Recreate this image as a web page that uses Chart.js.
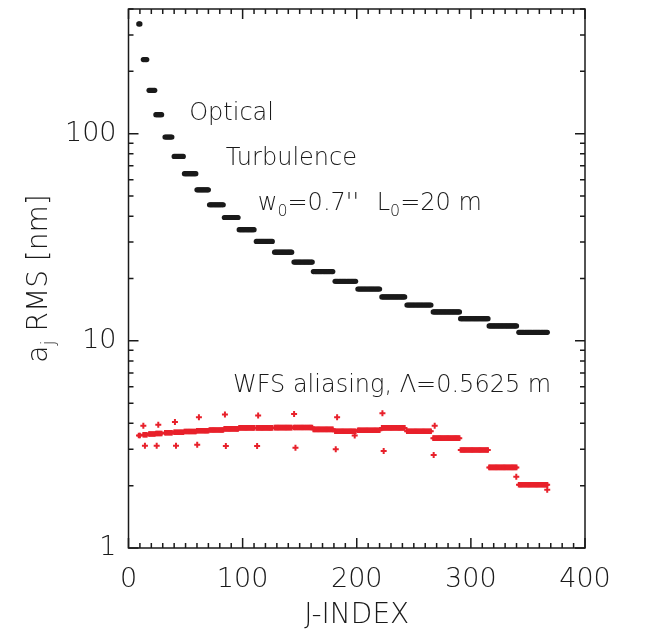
<!DOCTYPE html>
<html>
<head>
<meta charset="utf-8">
<script src="https://cdn.jsdelivr.net/npm/chart.js@4.4.1/dist/chart.umd.min.js"></script>
<style>
  html, body { margin: 0; padding: 0; background: #fff; }
  canvas { display: block; }
</style>
</head>
<body>
<canvas id="chart" width="647" height="633"></canvas>
<script>
// radial-order groups: first and last J-index of each group
const groupStart = [9, 13, 18, 24, 32, 40, 49, 60, 71, 84, 97, 112, 128, 145, 162, 181, 201, 222, 244, 267, 291, 316, 342]
const groupEnd = [10, 16, 23, 29, 38, 48, 59, 70, 83, 96, 110, 126, 143, 161, 179, 199, 220, 242, 265, 290, 315, 340, 367]
// optical turbulence, RMS per group [nm]
const turbRms = [339, 228, 162, 123.5, 96.4, 77.7, 64.1, 53.6, 45.4, 39.4, 34.4, 30.2, 26.8, 24.0, 21.6, 19.4, 17.8, 16.3, 14.9, 13.8, 12.8, 11.8, 11.0]
// WFS aliasing, RMS per group [nm]
const aliasRms = [3.49, 3.52, 3.55, 3.57, 3.60, 3.62, 3.65, 3.68, 3.71, 3.76, 3.80, 3.80, 3.81, 3.82, 3.74, 3.66, 3.70, 3.80, 3.66, 3.39, 2.97, 2.45, 2.02]
// aliasing points lying off the main band
const aliasOutJ = [13, 14.4, 24.7, 26.1, 40.7, 41.6, 60.2, 61.7, 84.5, 85.3, 112.7, 113.6, 145.1, 146.3, 181.6, 182.8, 198.2, 222.5, 223.6, 267.4, 268.3, 339.8, 366.9]
const aliasOutRms = [3.89, 3.12, 3.12, 3.94, 4.06, 3.12, 3.15, 4.28, 4.41, 3.11, 3.11, 4.36, 4.44, 3.05, 3.00, 4.28, 3.49, 4.47, 2.94, 2.81, 3.89, 2.21, 1.91]

const xTickLabels = [0, 100, 200, 300, 400]
const yTickLabels = [1, 10, 100]

const RED = '#e8212b'
const INK = '#1a1a1a'
const FONT = 'DejaVu Sans'

// one point per mode, value of its group
const toPoints = (vals) => {
  const pts = []
  groupStart.forEach((s, g) => {
    for (let j = s; j <= groupEnd[g]; j++) pts.push({ x: j, y: vals[g] })
  })
  return pts
}

const drawRuns = (ctx, x, y, runs, size) => {
  let cx = x
  runs.forEach(r => {
    const fs = r.sub ? size * 0.66 : size
    ctx.font = `200 ${fs}px "${FONT}"`
    ctx.fillText(r.t, cx, r.sub ? y + size * 0.26 : y)
    cx += ctx.measureText(r.t).width
  })
  return cx
}

const frame = {
  id: 'frame',
  afterDatasetsDraw(chart) {
    const { ctx, chartArea: a, scales: { x, y } } = chart
    ctx.save()
    ctx.strokeStyle = INK
    ctx.lineWidth = 1.5
    ctx.strokeRect(a.left, a.top, a.right - a.left, a.bottom - a.top)
    ctx.beginPath()
    x.ticks.forEach(t => {
      const px = x.getPixelForValue(t.value)
      const len = xTickLabels.includes(t.value) ? 10 : 5
      ctx.moveTo(px, a.bottom); ctx.lineTo(px, a.bottom - len)
      ctx.moveTo(px, a.top); ctx.lineTo(px, a.top + len)
    })
    y.ticks.forEach(t => {
      const py = y.getPixelForValue(t.value)
      const len = yTickLabels.includes(t.value) ? 10 : 5
      ctx.moveTo(a.left, py); ctx.lineTo(a.left + len, py)
      ctx.moveTo(a.right, py); ctx.lineTo(a.right - len, py)
    })
    ctx.stroke()

    // annotations, anchored in data coordinates
    ctx.fillStyle = INK
    ctx.textBaseline = 'alphabetic'
    ctx.textAlign = 'left'
    const at = (jx, v) => [x.getPixelForValue(jx), y.getPixelForValue(v)]
    let p = at(53.2, 116.8)
    drawRuns(ctx, p[0], p[1], [{ t: 'Optical' }], 24)
    p = at(85.3, 70.8)
    drawRuns(ctx, p[0], p[1], [{ t: 'Turbulence' }], 24)
    p = at(113.3, 42.9)
    drawRuns(ctx, p[0], p[1], [{ t: 'w' }, { t: '0', sub: true }, { t: "=0.7''" }], 24)
    p = at(217.5, 42.9)
    drawRuns(ctx, p[0], p[1], [{ t: 'L' }, { t: '0', sub: true }, { t: '=20 m' }], 24)
    p = at(91.5, 5.67)
    drawRuns(ctx, p[0], p[1], [{ t: 'WFS aliasing, Λ=0.5625 m' }], 24)

    // x axis title
    ctx.font = `200 28px "${FONT}"`
    ctx.textAlign = 'center'
    ctx.fillText('J-INDEX', (a.left + a.right) / 2, a.bottom + 75)
    ctx.textAlign = 'left'

    // y axis title with subscript, rotated
    const runs = [{ t: 'a' }, { t: 'j', sub: true }, { t: ' RMS [nm]' }]
    let w = 0
    runs.forEach(r => {
      ctx.font = `200 ${r.sub ? 28 * 0.66 : 28}px "${FONT}"`
      w += ctx.measureText(r.t).width
    })
    ctx.translate(37, (a.top + a.bottom) / 2)
    ctx.rotate(-Math.PI / 2)
    drawRuns(ctx, -w / 2, 10, runs, 28)
    ctx.restore()
  }
}

const minorTicks = (min, max) => {
  const out = []
  for (let v = min; v <= max; v += 10) out.push({ value: v })
  return out
}

new Chart(document.getElementById('chart'), {
  type: 'scatter',
  data: {
    datasets: [
      {
        label: 'Optical Turbulence',
        data: toPoints(turbRms),
        pointStyle: 'circle',
        pointRadius: 2.6,
        pointBackgroundColor: INK,
        pointBorderWidth: 0
      },
      {
        label: 'WFS aliasing',
        data: toPoints(aliasRms),
        pointStyle: 'cross',
        pointRadius: 2.8,
        pointBorderColor: RED,
        pointBorderWidth: 2
      },
      {
        label: 'WFS aliasing (off band)',
        data: aliasOutJ.map((j, i) => ({ x: j, y: aliasOutRms[i] })),
        pointStyle: 'cross',
        pointRadius: 3,
        pointBorderColor: RED,
        pointBorderWidth: 2
      }
    ]
  },
  options: {
    responsive: false,
    animation: false,
    layout: { autoPadding: false, padding: { left: 0, right: 62, top: 9, bottom: 0 } },
    plugins: { legend: { display: false }, tooltip: { enabled: false } },
    scales: {
      x: {
        type: 'linear',
        min: 0,
        max: 400,
        grid: { display: false, drawTicks: false },
        border: { display: false },
        afterBuildTicks: s => { s.ticks = minorTicks(0, 400) },
        afterFit: s => { s.height = 85; s.paddingLeft = 0; s.paddingRight = 0 },
        ticks: {
          autoSkip: false,
          maxRotation: 0,
          padding: 16,
          color: INK,
          font: { family: FONT, size: 27, weight: 200 },
          callback: v => (xTickLabels.includes(v) ? String(v) : '')
        }
      },
      y: {
        type: 'logarithmic',
        min: 1,
        max: 400,
        grid: { display: false, drawTicks: false },
        border: { display: false },
        afterBuildTicks: s => {
          const t = []
          yTickLabels.forEach(d => {
            for (let k = 1; k <= 9; k++) if (d * k <= 400) t.push({ value: d * k })
          })
          s.ticks = t
        },
        afterFit: s => { s.width = 128.5; s.paddingTop = 0; s.paddingBottom = 0 },
        ticks: {
          autoSkip: false,
          padding: 12,
          color: INK,
          font: { family: FONT, size: 27, weight: 200 },
          callback: v => (yTickLabels.includes(v) ? String(v) : '')
        }
      }
    }
  },
  plugins: [frame]
})
</script>
</body>
</html>
